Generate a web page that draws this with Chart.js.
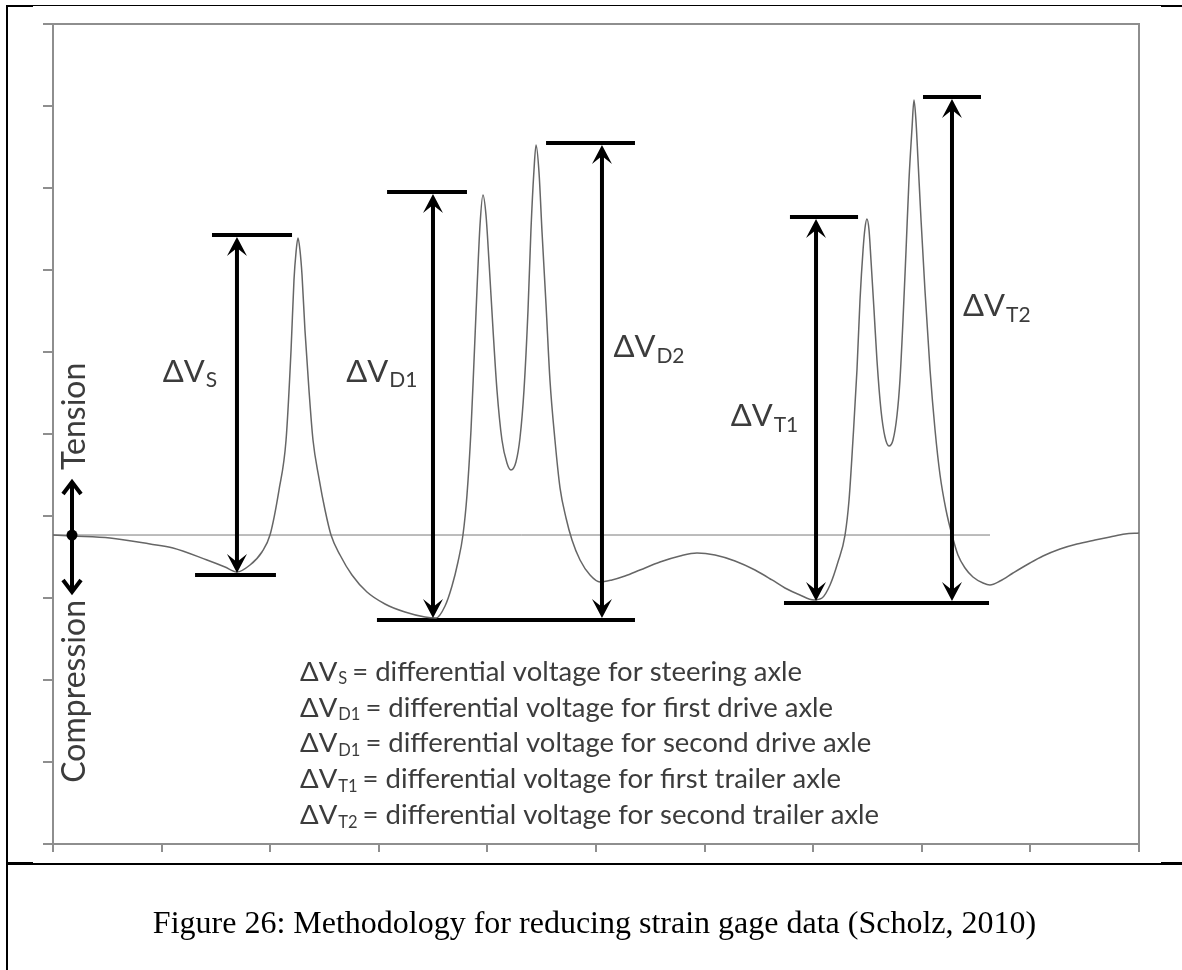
<!DOCTYPE html>
<html>
<head>
<meta charset="utf-8">
<title>Strain gage data reduction</title>
<script src="https://cdn.jsdelivr.net/npm/chart.js@4.4.1/dist/chart.umd.min.js"></script>
<style>
  html, body { margin: 0; padding: 0; background: #fff; }
  #page { position: relative; width: 1182px; height: 970px; overflow: hidden; background: #fff; }
  #graph { position: absolute; left: 0; top: 0; }
  .rule { position: absolute; background: #000; }
  #caption {
    position: absolute; left: 7px; right: 0; top: 906px;
    font: 32px "Liberation Serif", "Times New Roman", serif;
    line-height: 32px; text-align: center; color: #000;
  }
</style>
</head>
<body>
<div id="page">
  <canvas id="graph" width="1182" height="970"></canvas>
  <!-- table rules around the figure -->
  <div class="rule" style="left:6px; top:5px; width:2px; height:965px"></div>
  <div class="rule" style="left:6px; top:5px; width:1176px; height:1px"></div>
  <div class="rule" style="left:6px; top:5px; width:27px; height:2px"></div>
  <div class="rule" style="left:1161px; top:5px; width:21px; height:2px"></div>
  <div class="rule" style="left:6px; top:863px; width:1176px; height:2px"></div>
  <div class="rule" style="left:6px; top:862px; width:27px; height:3px"></div>
  <div class="rule" style="left:1161px; top:862px; width:21px; height:3px"></div>
  <div id="caption">Figure 26: Methodology for reducing strain gage data (Scholz, 2010)</div>
</div>
<script>
// gage trace, time vs output (arbitrary units)
const sampleTime = [
  0.000, 0.175, 0.525, 0.893, 1.105, 1.418, 1.584, 1.694, 1.814, 1.924,
  1.998, 2.081, 2.146, 2.192, 2.219, 2.238, 2.256, 2.274, 2.293, 2.320,
  2.357, 2.394, 2.449, 2.505, 2.560, 2.643, 2.753, 2.891, 3.057, 3.241,
  3.425, 3.527, 3.610, 3.674, 3.729, 3.775, 3.812, 3.849, 3.877, 3.904,
  3.932, 3.959, 3.987, 4.015, 4.052, 4.088, 4.134, 4.180, 4.217, 4.263,
  4.300, 4.337, 4.374, 4.401, 4.429, 4.448, 4.475, 4.503, 4.540, 4.576,
  4.622, 4.669, 4.724, 4.779, 4.853, 4.945, 5.037, 5.147, 5.267, 5.405,
  5.589, 5.773, 5.930, 6.096, 6.280, 6.464, 6.621, 6.740, 6.878, 7.007,
  7.081, 7.155, 7.228, 7.293, 7.330, 7.366, 7.403, 7.431, 7.459, 7.477,
  7.495, 7.514, 7.532, 7.560, 7.587, 7.624, 7.661, 7.698, 7.735, 7.772,
  7.799, 7.827, 7.855, 7.882, 7.910, 7.928, 7.947, 7.965, 7.993, 8.029,
  8.076, 8.122, 8.168, 8.223, 8.278, 8.333, 8.398, 8.471, 8.564, 8.628,
  8.720, 8.840, 8.996, 9.116, 9.273, 9.429, 9.595, 9.733, 9.871, 10.000
];
const gageOutput = [
  3.768, 3.756, 3.732, 3.659, 3.610, 3.463, 3.378, 3.317, 3.402, 3.561,
  3.768, 4.317, 4.927, 6.024, 6.878, 7.220, 7.390, 7.244, 6.939, 6.268,
  5.537, 4.927, 4.463, 4.073, 3.768, 3.524, 3.280, 3.073, 2.927, 2.829,
  2.768, 2.756, 2.902, 3.146, 3.439, 3.768, 4.256, 5.049, 5.902, 6.756,
  7.549, 7.915, 7.671, 7.098, 6.268, 5.537, 4.927, 4.646, 4.561, 4.659,
  4.951, 5.537, 6.512, 7.488, 8.220, 8.524, 8.195, 7.463, 6.573, 5.659,
  4.927, 4.341, 3.976, 3.707, 3.463, 3.280, 3.195, 3.220, 3.268, 3.341,
  3.439, 3.512, 3.549, 3.524, 3.451, 3.341, 3.220, 3.122, 3.037, 2.976,
  3.000, 3.159, 3.439, 3.768, 4.195, 4.927, 5.780, 6.634, 7.244, 7.512,
  7.622, 7.488, 7.122, 6.512, 5.902, 5.293, 4.963, 4.854, 4.927, 5.232,
  5.659, 6.390, 7.244, 8.098, 8.732, 9.073, 8.805, 8.341, 7.610, 6.756,
  5.780, 5.049, 4.500, 4.073, 3.768, 3.524, 3.366, 3.256, 3.183, 3.159,
  3.207, 3.305, 3.427, 3.512, 3.598, 3.659, 3.707, 3.744, 3.780, 3.793
];

// zero-strain reference
const zeroLevel = 3.768;
const zeroLineEnd = 8.628;

// one differential per axle
const axleSubs = ['S', 'D1', 'D2', 'T1', 'T2'];
const arrowTime = [1.694, 3.499, 5.055, 7.026, 8.278];
const peakLevel = [7.427, 7.951, 8.549, 7.646, 9.110];
const troughLevel = [3.280, 2.732, 2.732, 2.939, 2.939];
const peakBarFrom = [1.464, 3.076, 4.540, 6.786, 8.011];
const peakBarTo = [2.201, 3.812, 5.359, 7.413, 8.545];
const labelTime = [1.010, 2.700, 5.160, 6.240, 8.380];
const labelLevel = [5.76, 5.76, 6.06, 5.22, 6.56];

// trough bars (steering, drive tandem, trailer tandem)
const troughBarLevel = [3.280, 2.732, 2.939];
const troughBarFrom = [1.308, 2.983, 6.731];
const troughBarTo = [2.053, 5.359, 8.619];

// tension / compression marker
const signTime = 0.175;
const signUp = 4.415;
const signDown = 3.073;

const legendSubs = ['S', 'D1', 'D1', 'T1', 'T2'];
const legendText = [
  'differential voltage for steering axle',
  'differential voltage for first drive axle',
  'differential voltage for second drive axle',
  'differential voltage for first trailer axle',
  'differential voltage for second trailer axle'
];

const AXIS_GREY = '#8e8e8e';
const INK = '#3c3c3c';
const FONT = 'Lato, "Open Sans", sans-serif';

function segment(x0, x1, y) {
  return [{ x: x0, y: y }, { x: x1, y: y }];
}

const datasets = [];
datasets.push({
  data: sampleTime.map((t, i) => ({ x: t, y: gageOutput[i] })),
  borderColor: '#666',
  borderWidth: 1.5,
  pointRadius: 0,
  cubicInterpolationMode: 'monotone'
});
datasets.push({
  data: segment(0, zeroLineEnd, zeroLevel),
  borderColor: '#7a7a7a',
  borderWidth: 1,
  pointRadius: 0
});
peakLevel.forEach((lv, i) => {
  datasets.push({
    data: segment(peakBarFrom[i], peakBarTo[i], lv),
    borderColor: '#000',
    borderWidth: 4,
    pointRadius: 0
  });
});
troughBarLevel.forEach((lv, i) => {
  datasets.push({
    data: segment(troughBarFrom[i], troughBarTo[i], lv),
    borderColor: '#000',
    borderWidth: 4,
    pointRadius: 0
  });
});

function stealthHead(ctx, x, tip, dir) {
  // dir -1 points up, +1 points down
  const len = 19, half = 10, notch = 11;
  ctx.beginPath();
  ctx.moveTo(x, tip);
  ctx.lineTo(x - half, tip - dir * len);
  ctx.lineTo(x, tip - dir * notch);
  ctx.lineTo(x + half, tip - dir * len);
  ctx.closePath();
  ctx.fill();
}

function chevron(ctx, x, tip, dir) {
  ctx.beginPath();
  ctx.moveTo(x - 9, tip - dir * 12);
  ctx.lineTo(x, tip);
  ctx.lineTo(x + 9, tip - dir * 12);
  ctx.stroke();
}

function deltaV(ctx, x, y, sub, size, subSize, drop) {
  ctx.font = size + 'px ' + FONT;
  ctx.textBaseline = 'middle';
  ctx.textAlign = 'left';
  ctx.fillText('\u0394V', x, y);
  const w = ctx.measureText('\u0394V').width;
  ctx.font = subSize + 'px ' + FONT;
  ctx.fillText(sub, x + w + 1, y + drop);
  return x + w + 1 + ctx.measureText(sub).width;
}

const markup = {
  id: 'markup',
  beforeDatasetsDraw(chart) {
    const { ctx, chartArea: a } = chart;
    ctx.save();
    ctx.strokeStyle = AXIS_GREY;
    ctx.lineWidth = 2;
    ctx.beginPath();
    ctx.moveTo(a.left, a.top);
    ctx.lineTo(a.right, a.top);
    ctx.lineTo(a.right, a.bottom);
    ctx.stroke();
    ctx.restore();
  },
  afterDatasetsDraw(chart) {
    const { ctx, chartArea: a } = chart;
    const xs = chart.scales.x, ys = chart.scales.y;
    ctx.save();

    // dimension arrows
    ctx.fillStyle = '#000';
    ctx.strokeStyle = '#000';
    ctx.lineWidth = 4;
    arrowTime.forEach((t, i) => {
      const x = xs.getPixelForValue(t);
      const yTop = ys.getPixelForValue(peakLevel[i]) + 2;
      const yBot = ys.getPixelForValue(troughLevel[i]) - 2;
      ctx.beginPath();
      ctx.moveTo(x, yTop + 10);
      ctx.lineTo(x, yBot - 10);
      ctx.stroke();
      stealthHead(ctx, x, yTop, -1);
      stealthHead(ctx, x, yBot, 1);
    });

    // tension / compression marker
    const sx = xs.getPixelForValue(signTime);
    const sUp = ys.getPixelForValue(signUp);
    const sDn = ys.getPixelForValue(signDown);
    const s0 = ys.getPixelForValue(zeroLevel);
    ctx.lineWidth = 4;
    ctx.lineJoin = 'miter';
    ctx.beginPath();
    ctx.moveTo(sx, sUp + 1);
    ctx.lineTo(sx, sDn - 1);
    ctx.stroke();
    chevron(ctx, sx, sUp, -1);
    chevron(ctx, sx, sDn, 1);
    ctx.beginPath();
    ctx.arc(sx, s0, 5.5, 0, Math.PI * 2);
    ctx.fill();

    // axle labels
    ctx.fillStyle = INK;
    axleSubs.forEach((sub, i) => {
      deltaV(ctx, xs.getPixelForValue(labelTime[i]), ys.getPixelForValue(labelLevel[i]),
        sub, 31, 21, 9);
    });

    // rotated side labels
    ctx.font = '32px ' + FONT;
    ctx.textBaseline = 'middle';
    ctx.save();
    ctx.translate(sx + 3, sUp - 12);
    ctx.rotate(-Math.PI / 2);
    ctx.textAlign = 'left';
    ctx.fillText('Tension', 0, 0);
    ctx.restore();
    ctx.save();
    ctx.translate(sx + 3, sDn + 8);
    ctx.rotate(-Math.PI / 2);
    ctx.textAlign = 'right';
    ctx.fillText('Compression', 0, 0);
    ctx.restore();

    // key below the trace
    const keyX = a.left + 247;
    const keyY = a.top + 648;
    legendSubs.forEach((sub, i) => {
      const y = keyY + i * 35.8;
      ctx.fillStyle = INK;
      const end = deltaV(ctx, keyX, y, sub, 27.5, 16.5, 7);
      ctx.font = '27.5px ' + FONT;
      ctx.fillText('= ' + legendText[i], end + 5, y);
    });

    ctx.restore();
  }
};

const scaleBase = {
  type: 'linear',
  min: 0,
  max: 10,
  ticks: { display: false, stepSize: 1 },
  border: { color: AXIS_GREY, width: 2 },
  grid: { drawOnChartArea: false, drawTicks: true, color: AXIS_GREY, lineWidth: 2 }
};

new Chart(document.getElementById('graph'), {
  type: 'line',
  data: { datasets: datasets },
  options: {
    responsive: false,
    animation: false,
    events: [],
    layout: { padding: { left: 43, top: 24, right: 43, bottom: 118 } },
    plugins: { legend: { display: false }, tooltip: { enabled: false } },
    scales: {
      x: Object.assign({}, scaleBase, {
        grid: Object.assign({}, scaleBase.grid, { tickLength: 8 }),
        afterFit(scale) { scale.height = 8; }
      }),
      y: Object.assign({}, scaleBase, {
        grid: Object.assign({}, scaleBase.grid, { tickLength: 10 }),
        afterFit(scale) { scale.width = 10; }
      })
    }
  },
  plugins: [markup]
});
</script>
</body>
</html>
